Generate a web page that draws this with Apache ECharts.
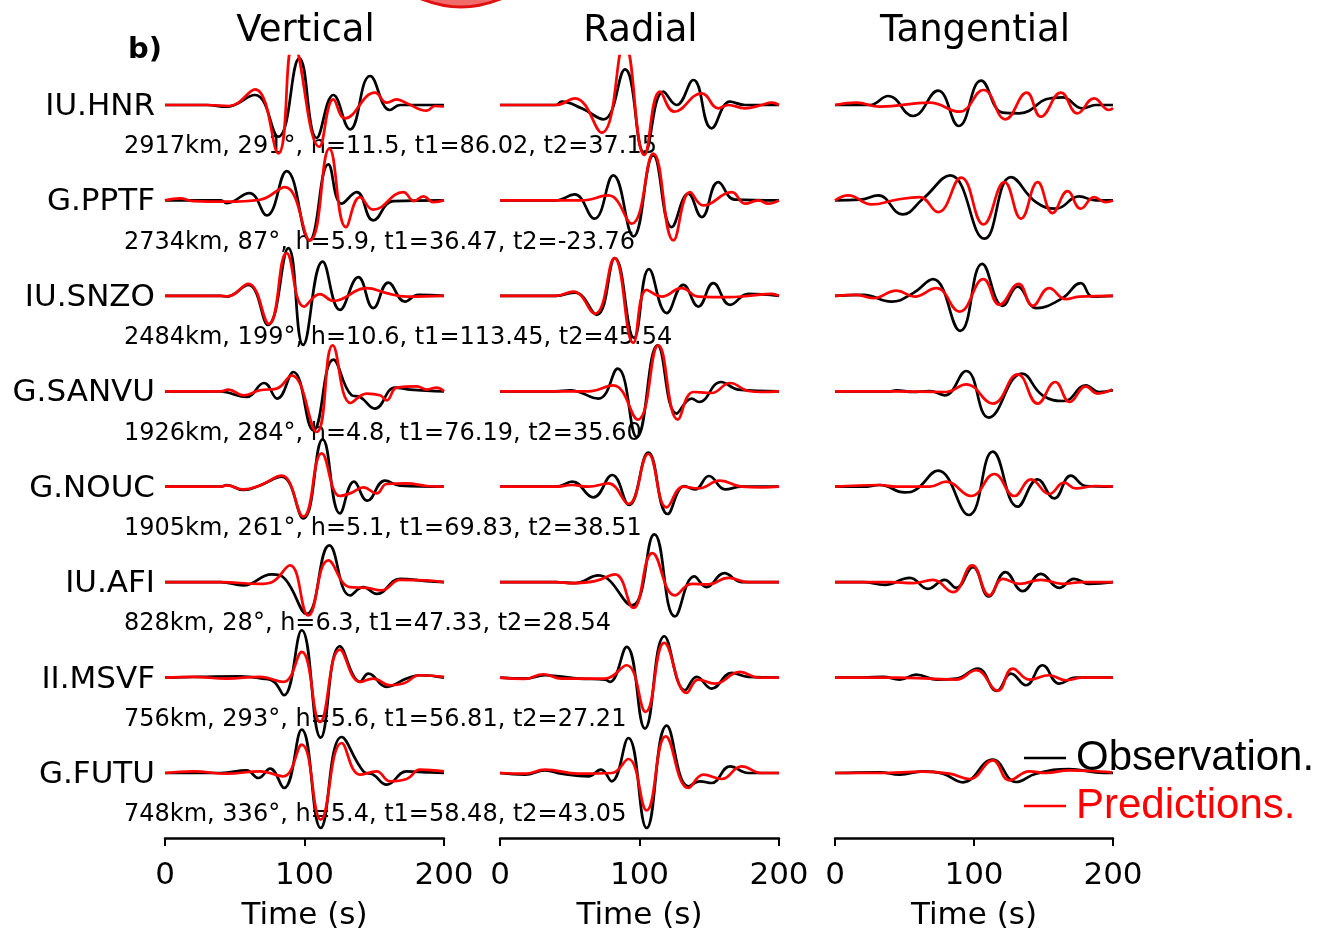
<!DOCTYPE html>
<html><head><meta charset="utf-8">
<script src="https://cdn.jsdelivr.net/npm/echarts@6/dist/echarts.min.js"></script>
<style>html,body{margin:0;padding:0;background:#fff}#c{width:1319px;height:937px}</style>
</head><body><div id="c"></div>
<script>
// ---------------- data ----------------
const stations = ['IU.HNR','G.PPTF','IU.SNZO','G.SANVU','G.NOUC','IU.AFI','II.MSVF','G.FUTU'];
const infoLabels = [
  '2917km, 291°, h=11.5, t1=86.02, t2=37.15',
  '2734km, 87°, h=5.9, t1=36.47, t2=-23.76',
  '2484km, 199°, h=10.6, t1=113.45, t2=45.54',
  '1926km, 284°, h=4.8, t1=76.19, t2=35.60',
  '1905km, 261°, h=5.1, t1=69.83, t2=38.51',
  '828km, 28°, h=6.3, t1=47.33, t2=28.54',
  '756km, 293°, h=5.6, t1=56.81, t2=27.21',
  '748km, 336°, h=5.4, t1=58.48, t2=43.05'
];
const components = ['Vertical','Radial','Tangential'];
const timeTicks = [0,100,200];
const legendNames = ['Observation.','Predictions.'];

// [time (s), amplitude] pairs, one list per station (top to bottom)
const obsVertical = [
  [[0,0],[30,0],[44,-1.7],[64.5,10],[81.2,-31.7],[96.3,46.7],[108.7,-33],[120.7,10],[132.6,-24.3],[147,29],[161.3,-5],[168.5,0],[200,0]],
  [[0,0],[40,0],[44.2,-2.7],[60.5,7.3],[72.9,-15],[87.2,29.3],[103.5,-40],[117.1,36],[126.6,-3.3],[137.4,8.3],[149.3,-20],[163.7,-0.7],[200,0]],
  [[0,0],[40,0],[44.2,-0.7],[59.7,11],[73.8,-29],[88.4,47.7],[99,-49],[113,34.3],[125.4,-14],[138.6,18.7],[149.3,-12.3],[160.1,13.3],[172,-5.7],[181.6,1],[200,0]],
  [[0,0],[40,0],[44.2,-1],[58.5,-5.7],[71,8.3],[80.5,-7.3],[92,19.3],[106.3,-39],[120.7,31.7],[133.8,-4],[139.8,-5.7],[150.5,-17.3],[164.9,3.7],[175.6,1.7],[200,0]],
  [[0,0],[40,0],[44.2,1.7],[56.2,-3.3],[68.1,1.3],[83.6,10],[99.2,-31.7],[113,47.3],[125.4,-26.7],[135.5,5],[145,-14],[157.7,6],[168.5,1],[200,0]],
  [[0,0],[40,0],[56.2,-3.3],[76.5,7.7],[86,3.3],[101.6,-31.7],[117.8,36.7],[132.6,-13.3],[142.2,-5],[151.7,-11.7],[168.5,3.3],[187.6,1],[200,0]],
  [[0,0],[25.1,0.7],[53.8,1.3],[70,-1],[78,-4],[85.3,-17.7],[98,47.3],[111.6,-60],[125.4,31.3],[139.8,-4.3],[145.8,4],[158.9,-9.3],[173.2,-1],[182.8,2.3],[200,0]],
  [[0,0],[40,0],[58.5,2.7],[66.9,-5],[75.3,4.3],[85.3,-15],[98,43.3],[111.6,-55],[126.6,36],[142.2,1.7],[149.3,-1.7],[158.9,-11.7],[173.2,1.7],[187.6,0.7],[200,0]]
];
const predVertical = [
  [[0,0],[30,0],[46,-1],[64.5,15.7],[81.2,-48.3],[92,62],[110.6,-41.7],[120.7,5.7],[129,-13.3],[150.5,12.3],[159,2.3],[166,5.7],[173,2],[187.6,-5.7],[193.5,-1],[200,-1.5]],
  [[0,0],[10.8,2],[20.3,-0.7],[44.2,-1.3],[68.1,0.7],[86,13.3],[103.9,-40],[117.8,51.7],[129.7,-26.7],[139.8,3.3],[149.3,-9.3],[170.8,8.3],[178.5,-0.7],[185.2,4],[192.4,-1.7],[200,0]],
  [[0,0],[40,0],[45,-0.5],[59.7,12],[74.5,-28],[87.2,42.7],[99.6,-10.7],[111.1,1.7],[120.7,-5],[144.6,7.7],[158.9,2.7],[173.2,-0.7],[200,0]],
  [[0,0],[40,0],[45.4,1.7],[56.2,-4],[68.1,1],[80,2.7],[90.8,16],[108.7,-40.7],[120.2,46],[133.1,-11.7],[144.6,-2.3],[154.1,-4],[158.9,-9],[166.1,3.7],[180.4,5],[187.6,1.7],[194.7,3.7],[200,0]],
  [[0,0],[40,0],[44.2,1.3],[56.2,-2.7],[68.1,1.3],[83.6,11],[99.2,-30],[112.3,33.3],[125.4,-9.3],[133.8,-6],[142.2,-0.7],[151.7,-6.7],[158.9,2.7],[173.2,3.3],[187.6,0.7],[200,0]],
  [[0,0],[40,0],[68.1,-1.7],[76.5,0],[89.6,16.7],[102.7,-33.3],[117.1,21.7],[132.6,-5],[144.6,-5.7],[155.3,-8.3],[168.5,2.3],[187.6,1.7],[200,0]],
  [[0,0],[20.3,0.7],[44.2,-1],[68.1,0.7],[84.8,-4.3],[98,25.7],[111.1,-44.3],[125.4,28],[139.8,-4.3],[149.3,-1],[161.3,-7.7],[170.8,-6],[182.8,2.3],[200,0.7]],
  [[0,0],[20.3,1.7],[44.2,-0.7],[68.1,1.7],[84.8,-3.3],[98,28.3],[111.6,-46.7],[126.6,30],[139.8,-1.7],[151.7,1.7],[161.3,-8.3],[173.2,-6],[182.8,3.3],[200,1.7]]
];
const obsRadial = [
  [[0,0],[40,0],[44.2,3.3],[58.5,-3.3],[74.1,-14.3],[89.6,35.7],[103.5,-48.3],[117.1,13.3],[126.6,0],[138.6,25],[151.7,-23.3],[164.9,3.3],[175.6,0],[200,0]],
  [[0,0],[40,0],[53.3,6],[67.6,-18.3],[81.2,25],[95.6,-36],[109.9,45],[123.1,-26.7],[135,6.7],[144.6,-16.7],[156.5,18.3],[168.5,0.7],[200,0]],
  [[0,0],[40,0],[53.8,3.3],[69.3,-19],[82.4,37.7],[96,-42],[106.8,26.7],[119.5,-17.3],[131.4,11],[142.2,-10.7],[152.9,12.7],[164.9,-9],[178,2],[200,0]],
  [[0,0],[40,0],[50.2,1],[70.5,-7.3],[84.3,22.7],[98,-45.7],[113,46],[126.6,-22.3],[137.4,-7.3],[142.7,-10.7],[158.4,9.3],[170.8,1.7],[200,0]],
  [[0,0],[40,0],[51.9,5],[66.9,-10.7],[80.5,11.7],[92.5,-18.3],[106.3,34],[120.2,-27.3],[132.1,0.7],[139.8,-2.7],[149.8,10.7],[161.3,-2.7],[173.2,0],[200,0]],
  [[0,0],[40,0],[53.8,-1],[70.5,6.7],[94.4,-23.3],[110.6,47.7],[125.4,-34.3],[139.3,5.7],[148.1,-5],[160.8,9],[173.2,0],[200,0]],
  [[0,0],[17.9,-1],[32.3,2.3],[56.2,-1],[75.3,-2],[78.9,-4.3],[90.8,30.7],[103.9,-51],[117.8,41.3],[132.6,-12.7],[141,0.7],[151.7,-11],[166.1,4.7],[178,0.7],[200,0]],
  [[0,0],[17.9,-1.7],[32.3,2.7],[44.2,-0.7],[63.3,-3.3],[72.4,3.3],[80,-8.3],[92,35],[105.1,-55],[119.5,47.3],[135,-13.3],[143.4,-8.3],[151.7,-10],[164.9,6.7],[178,0],[200,0]]
];
const predRadial = [
  [[0,0],[40,0],[53.8,6.7],[72.9,-27.7],[89.1,62],[103.5,-50],[114.7,13.3],[125,-6.7],[144.6,11.7],[156.5,-3.3],[163.7,0],[175.6,-3.3],[187.6,0],[194.7,2.3],[200,0]],
  [[0,0],[40,0],[58.5,0],[77.7,5],[94.4,-23.3],[109.9,46.7],[124.3,-40],[136.2,8.3],[145.8,-5],[166.1,8.3],[175.6,-3.3],[185.2,0],[192.4,-3.3],[200,0]],
  [[0,0],[40,0],[52.6,4.3],[68.1,-18],[82,37.7],[95.5,-47],[105.1,6],[115.9,-0.7],[130.2,7.7],[142.2,-0.7],[163.7,-1.3],[178,0],[194.7,2],[200,0]],
  [[0,0],[40,0],[63.3,0],[81.2,6],[98.7,-28.3],[113.5,46],[127.4,-28.3],[138.6,-0.7],[151.7,-1.7],[164.9,8.3],[178,0.3],[187.6,-0.7],[200,0]],
  [[0,0],[40,0],[51.4,1.7],[63.3,0],[77.7,3.3],[92,-17.3],[106.3,32.7],[119.5,-20.7],[131.4,0],[142.2,-1.7],[157.7,6],[173.2,0],[187.6,-0.7],[200,0]],
  [[0,0],[40,0],[51.4,-1],[68.1,1],[82.4,7.7],[95.6,-25.7],[109.2,29],[125.4,-13.3],[137.4,-1.7],[149.3,-2.3],[163.7,4.3],[178,0],[200,0]],
  [[0,0],[17.9,-1.3],[31.1,3.3],[44.2,-1],[75.3,-1],[90.8,12.3],[104.4,-34.3],[117.8,34.7],[133.8,-15.3],[142.2,-2],[154.1,-6],[172,5.7],[185.2,0],[200,0]],
  [[0,0],[17.9,-0.7],[32.3,3.3],[56.2,-0.7],[80,0],[92,14],[105.1,-37.3],[118.8,36.7],[135,-15],[145.8,-1.7],[158.9,-6],[173.2,6.7],[187.6,0],[200,0]]
];
const obsTangential = [
  [[0,0],[25.1,0],[38.2,9],[56.2,-11],[74.1,14.3],[89.1,-21],[105.1,24.3],[120.7,-7.7],[132.6,-8.3],[139.8,-5.7],[151.7,5.7],[163.7,7.7],[178,-3.3],[187.6,0],[200,0]],
  [[0,0],[17.9,0.7],[31.1,5],[48.5,-14],[63.3,1.7],[82.9,25],[107.5,-38.3],[126.6,23.3],[144.6,-1.7],[158.9,-8.3],[175.6,4],[187.6,0],[200,0]],
  [[0,0],[20.3,1],[40.6,-5.7],[56.2,2.7],[70.5,16.7],[90.1,-35],[105.9,32],[120.7,-10],[131.4,9.3],[145,-12.3],[163.7,-2.3],[176.8,12.7],[185.2,-0.7],[200,0]],
  [[0,0],[40,0],[44.2,1],[56.2,-0.7],[68.1,0.3],[78.9,-4],[94.4,20.3],[110.6,-26.3],[134.5,17.7],[149.3,-4],[164.9,-9.7],[180.4,6],[190,-0.7],[200,1]],
  [[0,0],[20.3,0],[32.3,1.7],[50.2,-5.7],[58.5,-2.7],[74.1,16],[96.3,-28.3],[113.5,35],[131.4,-20],[145.8,7.3],[157.7,-11.7],[169.7,11],[180.4,0.7],[200,0]],
  [[0,0],[20.3,0],[35.8,-2.7],[53.8,4.3],[66.9,-6.7],[78.9,2.3],[87.2,-5.7],[99.2,15],[110.6,-14.3],[122.6,10],[135,-9],[148.1,8.3],[161.3,-5.7],[172,3.3],[182.8,-1.7],[200,0]],
  [[0,0],[20.3,0],[34.6,0.7],[46.6,-2],[58.5,3],[72.9,-2],[87.2,-1],[102.7,9],[116.4,-13.3],[126.6,4],[137.4,-7.7],[149.3,12.3],[161.3,-6],[173.2,0],[200,0]],
  [[0,0],[32.3,0.7],[46.6,-1.7],[63.3,1.7],[77.7,-0.7],[92,-9.3],[113.5,13.3],[130.2,-9],[144.6,-0.7],[168.5,4],[187.6,0.7],[200,0]]
];
const predTangential = [
  [[0,0],[15.5,2.3],[32.3,-1.7],[68.1,2.3],[89.6,-6.7],[106.8,15],[122.6,-14.3],[137.9,12.3],[148.1,-11.7],[162.5,12.3],[174.4,-8.3],[186.4,6.7],[197.1,-5],[200,-3]],
  [[0,0],[9.6,5],[26.3,-4],[44.2,0.7],[60.9,3.3],[74.1,-11.7],[90.8,22.7],[106.8,-24],[121.9,18.3],[133.8,-18.3],[145.8,18.3],[156.5,-12.7],[167.3,9.3],[176.8,-8.3],[186.4,3.3],[194.7,-1.7],[200,0]],
  [[0,0],[15.5,1],[27.5,-2.3],[44.2,5.3],[57.3,-0.7],[72.9,7.7],[89.6,-15.7],[106.8,16.7],[118.3,-9],[132.1,12],[142.2,-10],[154.1,7.7],[166.1,-3.3],[175.6,-0.7],[200,0]],
  [[0,0],[40,0],[80,-0.7],[94.4,7],[113.5,-12.3],[131.4,17],[145.8,-12.3],[158.4,9.3],[168.9,-10.7],[180.4,5],[188.8,-2.3],[199.5,1.7]],
  [[0,0],[32.3,1.7],[44.2,0],[68.1,0],[80,5],[98,-9.3],[114.7,12.7],[129,-9.3],[141,7.3],[154.1,-7.3],[164.9,4],[173.2,-1.7],[187.6,0.7],[200,0]],
  [[0,0],[40,0],[56.2,-1],[70.5,2.3],[84.8,-10],[98.7,16.7],[111.1,-13.3],[120.7,3.3],[132.6,-1.7],[148.1,2.3],[163.7,-1.7],[178,0],[200,0]],
  [[0,0],[44.2,0],[68.1,-1],[87.2,-2],[101.6,7.3],[117.1,-13.3],[127.8,9],[139.8,-2],[154.1,2.3],[166.1,-2.7],[178,0],[200,0]],
  [[0,0],[32.3,0],[63.3,1.3],[82.4,-0.7],[96.8,-6],[113.5,12.7],[125.4,-7.3],[139.8,1.7],[151.7,0],[168.5,2.7],[199.5,0.7]]
];

// ---------------- layout / style ----------------
const FONT = 'DejaVu Sans';
const OBS_COLOR = '#000000';
const PRED_COLOR = '#ff0000';
const SPACING = 95.43;     // trace offset between stations (amplitude units)
const BOTTOM_PAD = 65;     // offset of the lowest station above the axis
const Y_MAX = 782;
const gridLefts = [165, 500, 835];
const gridWidths = [279, 279, 278];
const GRID_TOP = 56, GRID_H = 782;

const obsSets = [obsVertical, obsRadial, obsTangential];
const predSets = [predVertical, predRadial, predTangential];
const nSt = stations.length;
const offsetOf = i => (nSt - 1 - i) * SPACING + BOTTOM_PAD;

const grids = [], xAxes = [], yAxes = [], series = [];
components.forEach((c, ci) => {
  grids.push({left: gridLefts[ci], top: GRID_TOP, width: gridWidths[ci], height: GRID_H, containLabel: false});
  xAxes.push({
    gridIndex: ci, type: 'value', min: timeTicks[0], max: timeTicks[timeTicks.length-1],
    interval: timeTicks[1] - timeTicks[0],
    name: 'Time (s)', nameLocation: 'middle', nameGap: 62,
    nameTextStyle: {fontFamily: FONT, fontSize: 31, color: '#000'},
    axisLine: {show: true, onZero: false, lineStyle: {color: '#000', width: 2.5}},
    axisTick: {show: true, length: 8, lineStyle: {color: '#000', width: 2}},
    axisLabel: {fontFamily: FONT, fontSize: 31, color: '#000', margin: 22, showMinLabel: true, showMaxLabel: true},
    splitLine: {show: false}
  });
  yAxes.push({gridIndex: ci, type: 'value', min: 0, max: Y_MAX, show: false, splitLine: {show: false}});
  [[obsSets[ci], legendNames[0], OBS_COLOR], [predSets[ci], legendNames[1], PRED_COLOR]].forEach(([set, name, color]) => {
    set.forEach((trace, si) => {
      const off = offsetOf(si);
      series.push({
        type: 'line', name: name, xAxisIndex: ci, yAxisIndex: ci,
        data: trace.map(p => [p[0], p[1] + off]),
        smooth: 0.45, showSymbol: false, symbol: 'none', clip: true,
        color: color,
        lineStyle: {color: color, width: 2.7},
        z: name === legendNames[1] ? 3 : 2
      });
    });
  });
});

const titles = components.map((c, ci) => ({
  text: c, left: gridLefts[ci] + gridWidths[ci] / 2 - 4, top: 8, textAlign: 'center',
  textStyle: {fontFamily: FONT, fontSize: 37, fontWeight: 'normal', color: '#000'}
}));
titles.push({text: 'b)', left: 123, top: 31, textStyle: {fontFamily: FONT, fontSize: 29, fontWeight: 'bold', color: '#000'}});

const chart = echarts.init(document.getElementById('c'), null, {renderer: 'canvas'});
chart.setOption({
  animation: false,
  backgroundColor: '#fff',
  title: titles,
  grid: grids, xAxis: xAxes, yAxis: yAxes, series: series,
  legend: {
    orient: 'vertical', left: 1019, top: 731, selectedMode: false,
    icon: 'rect', itemWidth: 42, itemHeight: 2.5, itemGap: 4,
    textStyle: {fontFamily: 'Liberation Sans', fontSize: 42, lineHeight: 44, padding: [0, 0, 0, 5]},
    data: [
      {name: legendNames[0], textStyle: {color: OBS_COLOR}},
      {name: legendNames[1], textStyle: {color: PRED_COLOR}}
    ]
  }
});

// station names and source info, placed through the first panel's scales
const graphics = [];
stations.forEach((s, i) => {
  const p = chart.convertToPixel({gridIndex: 0}, [timeTicks[0], offsetOf(i)]);
  graphics.push({type: 'text', z: 1, x: p[0] - 10, y: p[1] + 2,
    style: {text: s, font: '31px "DejaVu Sans"', fill: '#000', textAlign: 'right', textVerticalAlign: 'middle'}});
  graphics.push({type: 'text', z: 1, x: p[0] - 41, y: p[1] + 42,
    style: {text: infoLabels[i], font: '24px "DejaVu Sans"', fill: '#000', textAlign: 'left', textVerticalAlign: 'middle'}});
});
// partial focal-mechanism ball at the top edge (from a neighbouring panel)
graphics.push({type: 'circle', z: 0, shape: {cx: 461, cy: -93, r: 100},
  style: {fill: '#f26b6b', stroke: '#e01010', lineWidth: 3}});
chart.setOption({graphic: graphics});
</script>
</body></html>
